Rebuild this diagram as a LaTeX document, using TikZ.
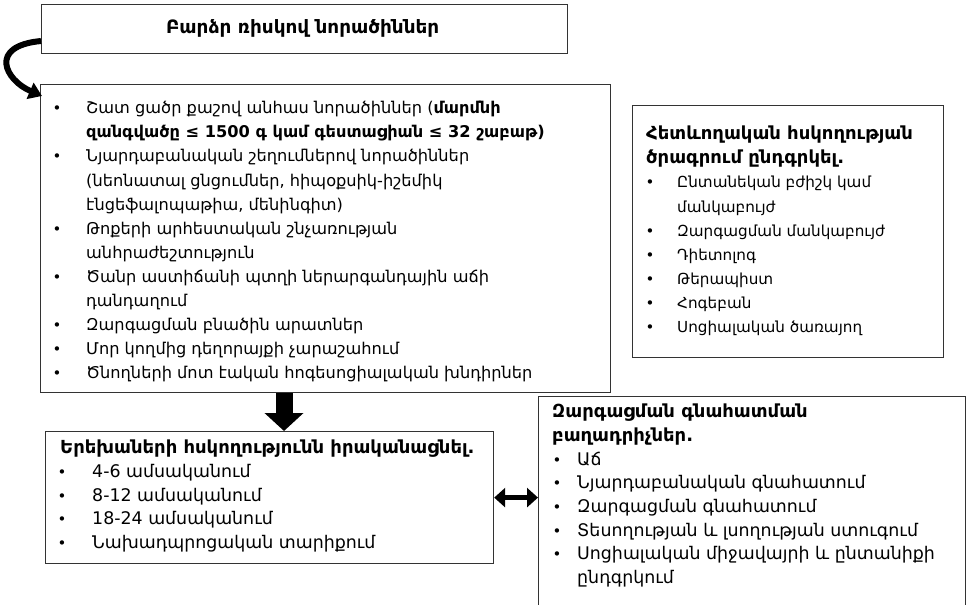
\documentclass[tikz,border=0pt]{standalone}
\usepackage{fontspec}
\setmainfont{DejaVu Sans}
\usetikzlibrary{arrows.meta,calc}
\newcommand\itm[5]{\node[bul] (#1b) at (#2,#4) {•};\node[tx] (#1) at (#3,#4) {#5};}
\newcommand\txl[4]{\node[tx] (#1) at (#2,#3) {#4};}
\newcommand\hdl[4]{\node[hd] (#1) at (#2,#3) {#4};}
\begin{document}
\begin{tikzpicture}[x=1pt,y=-1pt,
 box/.style={draw=black!80,line width=1.2pt,rectangle,inner sep=0pt,anchor=north west},
 tx/.style={inner sep=0pt,font=\fontsize{16.2}{19}\selectfont,anchor=mid west},
 hd/.style={inner sep=0pt,font=\fontsize{18}{21}\selectfont\bfseries,anchor=mid west},
 bul/.style={inner sep=0pt,font=\fontsize{15}{18}\selectfont,anchor=mid},
 blockarrow/.style={line width=17pt,-{Triangle[length=18pt,width=38pt]}},
 dblarrow/.style={line width=5pt,{Triangle[length=11pt,width=19pt]}-{Triangle[length=11pt,width=19pt]}},
 curvarrow/.style={line width=6pt,-{Triangle[length=13pt,width=17pt]}},
]
\useasboundingbox (0,0) rectangle (970,605);
% boxes
\node[box,minimum width=526pt,minimum height=49pt] (top) at (41,4) {};
\node[box,minimum width=570pt,minimum height=308pt] (main) at (40,84) {};
\node[box,minimum width=311pt,minimum height=252pt] (right) at (632,105) {};
\node[box,minimum width=448pt,minimum height=132pt] (bl) at (45,431) {};
\node[box,minimum width=427pt,minimum height=230pt] (br) at (538,396) {};
% top text
\node[inner sep=0pt,font=\fontsize{18.4}{22}\selectfont\bfseries] (toptxt) at ($(top.center)+(-2,-1)$) {Բարձր ռիսկով նորածիններ};
% main list
\itm{m1}{57}{86}{111}{Շատ ցածր քաշով անհաս նորածիններ (\textbf{մարմնի}}
\txl{m2}{86}{135.1}{\textbf{զանգվածը ≤ 1500 գ կամ գեստացիան ≤ 32 շաբաթ)}}
\itm{m3}{57}{86}{159.2}{Նյարդաբանական շեղումներով նորածիններ}
\txl{m4}{86}{183.3}{(նեոնատալ ցնցումներ, հիպօքսիկ-իշեմիկ}
\txl{m5}{86}{207.4}{էնցեֆալոպաթիա, մենինգիտ)}
\itm{m6}{57}{86}{231.5}{Թոքերի արհեստական շնչառության}
\txl{m7}{86}{255.6}{անհրաժեշտություն}
\itm{m8}{57}{86}{279.7}{Ծանր աստիճանի պտղի ներարգանդային աճի}
\txl{m9}{86}{303.8}{դանդաղում}
\itm{m10}{57}{86}{327.9}{Զարգացման բնածին արատներ}
\itm{m11}{57}{86}{352}{Մոր կողմից դեղորայքի չարաշահում}
\itm{m12}{57}{86}{376.1}{Ծնողների մոտ էական հոգեսոցիալական խնդիրներ}
% right list
\begin{scope}[tx/.style={inner sep=0pt,font=\fontsize{15.2}{18}\selectfont,anchor=mid west}]
\hdl{r1}{646}{137}{Հետևողական հսկողության}
\hdl{r2}{646}{161.1}{ծրագրում ընդգրկել.}
\itm{r3}{650}{677}{185.2}{Ընտանեկան բժիշկ կամ}
\txl{r4}{677}{209.3}{մանկաբույժ}
\itm{r5}{650}{677}{233.4}{Զարգացման մանկաբույժ}
\itm{r6}{650}{677}{257.5}{Դիետոլոգ}
\itm{r7}{650}{677}{281.6}{Թերապիստ}
\itm{r8}{650}{677}{305.7}{Հոգեբան}
\itm{r9}{650}{677}{329.8}{Սոցիալական ծառայող}
\end{scope}
\begin{scope}[tx/.style={inner sep=0pt,font=\fontsize{17.4}{20}\selectfont,anchor=mid west}]
% bottom-left list
\hdl{b1}{60}{451}{Երեխաների հսկողությունն իրականացնել.}
\itm{b2}{62}{92}{474.7}{4-6 ամսականում}
\itm{b3}{62}{92}{498.5}{8-12 ամսականում}
\itm{b4}{62}{92}{522.2}{18-24 ամսականում}
\itm{b5}{62}{92}{546}{Նախադպրոցական տարիքում}
% bottom-right list
\hdl{c1}{552}{415}{Զարգացման գնահատման}
\hdl{c2}{552}{438.7}{բաղադրիչներ.}
\itm{c3}{557}{577}{462.4}{Աճ}
\itm{c4}{557}{577}{486.1}{Նյարդաբանական գնահատում}
\itm{c5}{557}{577}{509.8}{Զարգացման գնահատում}
\itm{c6}{557}{577}{533.5}{Տեսողության և լսողության ստուգում}
\itm{c7}{557}{577}{557.2}{Սոցիալական միջավայրի և ընտանիքի}
\txl{c8}{577}{580.9}{ընդգրկում}
\end{scope}
% connectors
\coordinate (ax) at (284,0);
\draw[blockarrow] (main.south -| ax) -- (bl.north -| ax);
\draw[dblarrow] (bl.east) -- (bl.east -| br.west);
\draw[curvarrow] ($(top.north west)+(0,37)$) .. controls (-12,46) and (5,80) .. ($(main.north west)+(2,12)$);
\end{tikzpicture}
\end{document}
